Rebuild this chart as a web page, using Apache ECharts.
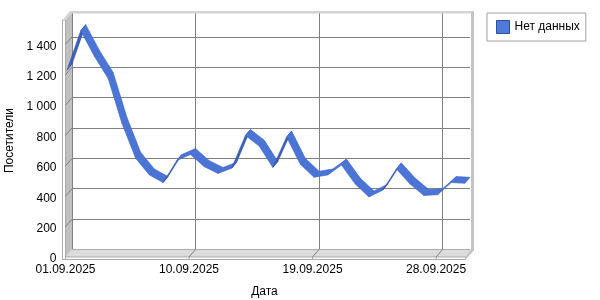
<!DOCTYPE html>
<html><head><meta charset="utf-8">
<script src="https://cdn.jsdelivr.net/npm/echarts@6/dist/echarts.min.js"></script>
<style>html,body{margin:0;padding:0;background:#fff}#c{width:600px;height:300px}</style>
</head><body><div id="c"></div>
<script>
// ---- data ----
const dates = ["01.09.2025","02.09.2025","03.09.2025","04.09.2025","05.09.2025","06.09.2025","07.09.2025","08.09.2025","09.09.2025","10.09.2025","11.09.2025","12.09.2025","13.09.2025","14.09.2025","15.09.2025","16.09.2025","17.09.2025","18.09.2025","19.09.2025","20.09.2025","21.09.2025","22.09.2025","23.09.2025","24.09.2025","25.09.2025","26.09.2025","27.09.2025","28.09.2025","29.09.2025","30.09.2025"];
const visitors = [1220,1480,1310,1165,870,640,530,480,625,665,585,540,575,790,720,580,780,600,515,530,595,470,385,430,570,470,395,400,480,475];
const yTicks = [0,200,400,600,800,1000,1200,1400];
const xLabelIdx = [0,9,18,27];
const seriesName = "Нет данных";
const yTitle = "Посетители";
const xTitle = "Дата";
const yMax = 1560;

// ---- layout / style ----
const FONT = "'Liberation Sans', Arial, sans-serif";
const BACK = {left:72, right:130, top:12.5, bottom:50.5};
const DEPTH = [-6.5, 7.5];   // back wall -> front of floor
const LBL = [-6.5, 9.5];     // back wall -> label plane
const RIB = [-5, 6];         // ribbon back edge -> front edge
const FRONT = {left:BACK.left+LBL[0], right:BACK.right-LBL[0], top:BACK.top+LBL[1], bottom:BACK.bottom-LBL[1]};

function fmt(v){ v=Math.round(v); if(v>=1000){return Math.floor(v/1000)+' '+String(v%1000).padStart(3,'0');} return String(v); }

const segData = [];
for(let i=0;i<visitors.length-1;i++) segData.push([i, visitors[i], visitors[i+1]]);

const chart = echarts.init(document.getElementById('c'), null, {renderer:'canvas'});
const option = {
  animation:false,
  backgroundColor:'#fff',
  textStyle:{fontFamily:FONT},
  legend:{
    data:[seriesName], left:487, top:13, orient:'vertical',
    borderColor:'#a0a0a0', borderWidth:1, padding:[7,6,7,9],
    icon:'rect', itemWidth:13, itemHeight:13, itemGap:5,
    textStyle:{fontFamily:FONT, fontSize:12, color:'#000', padding:[0,0,0,0]},
    itemStyle:{color:'#4f7ad8', borderColor:'#2e4e9a', borderWidth:1},
    selectedMode:false
  },
  grid:[
    {left:BACK.left, right:BACK.right, top:BACK.top, bottom:BACK.bottom, containLabel:false, outerBoundsMode:'none'},
    {left:FRONT.left, right:FRONT.right, top:FRONT.top, bottom:FRONT.bottom, containLabel:false, outerBoundsMode:'none'}
  ],
  xAxis:[
    {gridIndex:0, type:'category', data:dates, boundaryGap:false,
      axisLine:{show:false}, axisTick:{show:false}, axisLabel:{show:false},
      splitLine:{show:true, interval:(i)=>xLabelIdx.indexOf(i)>=0, lineStyle:{color:'#808080', width:1}}},
    {gridIndex:1, type:'category', data:dates, boundaryGap:false,
      axisLine:{show:false}, axisTick:{show:false}, splitLine:{show:false},
      axisLabel:{interval:(i)=>xLabelIdx.indexOf(i)>=0, margin:5, fontSize:12, color:'#000', fontFamily:FONT, hideOverlap:false},
      name:xTitle, nameLocation:'middle', nameGap:27, nameMoveOverlap:false, nameTextStyle:{fontSize:12, color:'#000', fontFamily:FONT}}
  ],
  yAxis:[
    {gridIndex:0, type:'value', min:0, max:yMax, interval:200,
      axisLine:{show:false}, axisTick:{show:false}, axisLabel:{show:false},
      splitLine:{show:true, lineStyle:{color:'#808080', width:1}}},
    {gridIndex:1, type:'value', min:0, max:yMax, interval:200,
      axisLine:{show:false}, axisTick:{show:false}, splitLine:{show:false},
      axisLabel:{formatter:fmt, showMaxLabel:false, margin:9, fontSize:12, color:'#000', fontFamily:FONT},
      name:yTitle, nameLocation:'middle', nameGap:50, nameMoveOverlap:false, nameTextStyle:{fontSize:12, color:'#000', fontFamily:FONT}}
  ],
  series:[
    {
      type:'custom', name:'box', xAxisIndex:0, yAxisIndex:0, z:1, silent:true,
      data:[[0]],
      renderItem:function(params, api){
        const n = dates.length-1;
        const bl = api.coord([0,0]), br = api.coord([n,0]), tl = api.coord([0,yMax]), tr = api.coord([n,yMax]);
        const dx = DEPTH[0], dy = DEPTH[1];
        const ch = [];
        ch.push({type:'polygon', shape:{points:[[bl[0],bl[1]],[br[0]+2,br[1]],[br[0]+2+dx,br[1]+dy],[bl[0]+dx,bl[1]+dy]]}, style:{fill:'#dcdcdc', stroke:null}});
        ch.push({type:'rect', shape:{x:bl[0]+dx-3, y:bl[1]+dy, width:(br[0]+2+dx)-(bl[0]+dx-3), height:2.5}, style:{fill:'#ffffff', stroke:'#a8a8a8', lineWidth:1}});
        ch.push({type:'polygon', shape:{points:[[tl[0],tl[1]],[bl[0],bl[1]],[bl[0]+dx,bl[1]+dy],[tl[0]+dx,tl[1]+dy]]}, style:{fill:'#c0c0c0', stroke:null}});
        ch.push({type:'rect', shape:{x:tl[0]+dx-3, y:tl[1]+dy, width:3, height:(bl[1]+dy+2.5)-(tl[1]+dy)}, style:{fill:'#ffffff', stroke:'#a8a8a8', lineWidth:1}});
        ch.push({type:'polygon', shape:{points:[[tl[0]+dx-3,tl[1]+dy],[tl[0]-2,tl[1]-1.5],[tr[0]+3,tr[1]-1.5],[tr[0]+3,tr[1]+1],[tl[0],tl[1]+1],[tl[0]+dx,tl[1]+dy]]}, style:{fill:'#d4d4d4', stroke:null}});
        ch.push({type:'polygon', shape:{points:[[tr[0]+1,tr[1]],[tr[0]+4,tr[1]-1.5],[br[0]+4,br[1]+1],[br[0]+2+dx,br[1]+dy+2.5],[br[0]+2+dx,br[1]+dy],[br[0]+1,br[1]]]}, style:{fill:'#c4c4c4', stroke:null}});
        yTicks.forEach(function(t){ if(t===0) return; const p = api.coord([0,t]);
          ch.push({type:'line', shape:{x1:p[0], y1:p[1], x2:p[0]+dx, y2:p[1]+dy}, style:{stroke:'#808080', lineWidth:1}}); });
        xLabelIdx.forEach(function(i){ if(i===0) return; const p = api.coord([i,0]);
          ch.push({type:'line', shape:{x1:p[0], y1:p[1], x2:p[0]+dx, y2:p[1]+dy}, style:{stroke:'#808080', lineWidth:1}});
          ch.push({type:'line', shape:{x1:p[0]+dx, y1:p[1]+dy, x2:p[0]+dx, y2:p[1]+dy+2.5}, style:{stroke:'#a8a8a8', lineWidth:1}}); });
        return {type:'group', children:ch};
      }
    },
    {
      type:'custom', name:seriesName, xAxisIndex:0, yAxisIndex:0, z:5,
      itemStyle:{color:'#4f7ad8', borderColor:'#2e4e9a'},
      data:segData,
      encode:{x:0, y:1},
      renderItem:function(params, api){
        const i = api.value(0), a = api.value(1), b = api.value(2);
        const p0 = api.coord([i,a]), p1 = api.coord([i+1,b]);
        const f0 = [p0[0]+RIB[0], p0[1]+RIB[1]], f1 = [p1[0]+RIB[0], p1[1]+RIB[1]];
        const dxs = p1[0]-p0[0], dys = p1[1]-p0[1];
        const cross = dxs*RIB[1] - dys*RIB[0];
        const top = cross > 0;
        return {type:'polygon', shape:{points:[p0,p1,f1,f0]},
          style:{fill: top ? '#4a74d6' : '#3c5fb8', stroke: top ? '#3f63bf' : '#34539f', lineWidth:0.6}};
      }
    }
  ]
};
chart.setOption(option);
</script></body></html>
